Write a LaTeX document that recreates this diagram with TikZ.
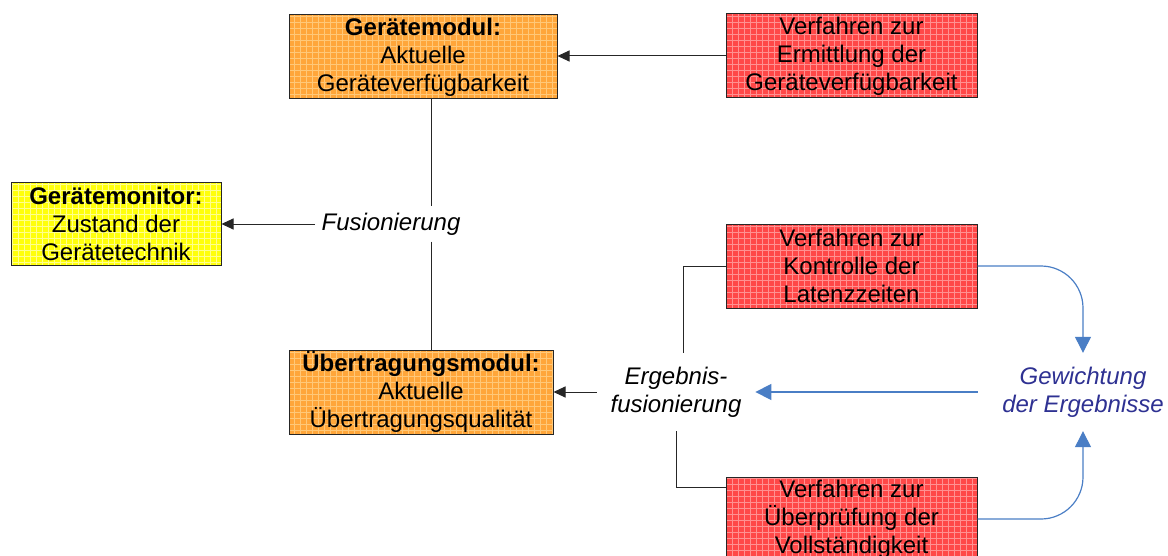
\documentclass[tikz,border=0pt]{standalone}
\usepackage{fontspec}
\setmainfont{Liberation Sans}
\usepackage{tikz}
\usetikzlibrary{arrows.meta,positioning,calc,patterns}

\definecolor{modorange}{RGB}{255,166,58}
\definecolor{modgrid}{RGB}{255,200,120}
\definecolor{verfred}{RGB}{255,72,72}
\definecolor{verfgrid}{RGB}{255,145,145}
\definecolor{monyellow}{RGB}{255,255,10}
\definecolor{mongrid}{RGB}{255,255,140}
\definecolor{blaulinie}{RGB}{74,126,197}
\definecolor{gewtext}{RGB}{46,49,146}

\begin{document}
\begin{tikzpicture}[x=0.5pt,y=-0.5pt,
    every node/.style={font=\fontsize{12}{14}\selectfont, align=center},
    box/.style={draw=black!85, line width=0.5pt, inner sep=0pt, minimum height=42pt},
    modul/.style={box, preaction={fill=modorange}, pattern=grid, pattern color=modgrid},
    verfahren/.style={box, preaction={fill=verfred}, pattern=grid, pattern color=verfgrid, minimum width=125.5pt},
    monitor/.style={box, preaction={fill=monyellow}, pattern=grid, pattern color=mongrid},
    fusion/.style={font=\fontsize{12}{14}\selectfont\itshape, inner sep=3pt},
    gewicht/.style={fusion, text=gewtext, inner sep=2pt, outer sep=5pt},
    linie/.style={line width=0.5pt, black!85},
    pfeil/.style={linie, -{Triangle[length=6pt,width=5.5pt]}},
    blau/.style={line width=0.6pt, blaulinie, -{Triangle[length=8pt,width=8pt]}}]
    \useasboundingbox (0,0) rectangle (1168,556);

    % Module
    \node[modul, minimum width=134pt] (geraet) at (423,57)
        {\textbf{Gerätemodul:}\\Aktuelle\\Geräteverfügbarkeit};
    \node[modul, minimum width=132pt] (uebertr) at (421,392)
        {\textbf{Übertragungsmodul:}\\Aktuelle\\Übertragungsqualität};

    % Monitor
    \node[monitor, minimum width=105pt, minimum height=41.5pt] (monitor) at (116,224)
        {\textbf{Gerätemonitor:}\\Zustand der\\Gerätetechnik};

    % Verfahren
    \node[verfahren] (ermitt) at (851.5,56) {Verfahren zur\\Ermittlung der\\Geräteverfügbarkeit};
    \node[verfahren] (kontr) at (851.5,266) {Verfahren zur\\Kontrolle der\\Latenzzeiten};
    \node[verfahren] (pruef) at (851.5,519) {Verfahren zur\\Überprüfung der\\Vollständigkeit};

    % Fusion
    \node[fusion] (fus) at (391,224) {Fusionierung};
    \node[fusion, inner sep=2pt, outer sep=5pt] (erg) at (676,392) {Ergebnis-\\fusionierung};
    \node[gewicht] (gew) at (1083,392) {Gewichtung\\der Ergebnisse};

    % Verbindungen oben
    \coordinate (fx) at (431,0);
    \draw[pfeil] (ermitt.west) -- (ermitt.west -| geraet.east);
    \draw[linie] (geraet.south -| fx) -- (fus.north -| fx);
    \draw[linie] (fus.south -| fx) -- (uebertr.north -| fx);
    \draw[pfeil] (fus.west) -- (fus.west -| monitor.east);

    % Verbindungen unten
    \draw[linie] (kontr.west) -| ([xshift=3.5pt]erg.north);
    \draw[linie] ([yshift=16pt]pruef.west) -| (erg.south);
    \draw[pfeil] (erg.west) -- (erg.west -| uebertr.east);

    % Gewichtung
    \draw[blau] (gew.west -| kontr.east) -- (erg.east);
    \draw[blau, rounded corners=21pt] (kontr.east) -| (gew.north);
    \draw[blau, rounded corners=21pt] (pruef.east) -| (gew.south);
\end{tikzpicture}
\end{document}
